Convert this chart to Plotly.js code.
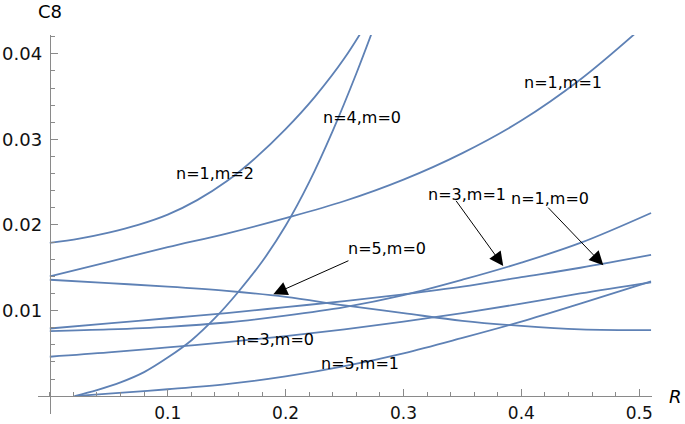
<!DOCTYPE html>
<html>
<head>
<meta charset="utf-8">
<script src="https://cdn.plot.ly/plotly-3.0.1.min.js"></script>
<style>html,body{margin:0;padding:0;background:#fff;}#chart{width:685px;height:424px;}</style>
</head>
<body>
<div id="chart"></div>
<script>
// ---- data ----
const seriesNames = ["n=1,m=2", "n=4,m=0", "n=1,m=1", "n=5,m=0", "n=3,m=1", "n=1,m=0", "n=3,m=0", "n=5,m=1"];

const R_n1m2 = [0, 0.025, 0.05, 0.075, 0.1, 0.125, 0.15, 0.175, 0.2, 0.225, 0.25, 0.275];
const C8_n1m2 = [0.0179, 0.0184, 0.0191, 0.0200, 0.0212, 0.0229, 0.0251, 0.0279, 0.0312, 0.0350, 0.0395, 0.0450];

const R_n4m0 = [0.021, 0.04, 0.06, 0.08, 0.1, 0.12, 0.14, 0.16, 0.18, 0.2, 0.22, 0.24, 0.26, 0.28];
const C8_n4m0 = [0, 0.0007, 0.0016, 0.0028, 0.0045, 0.0065, 0.0091, 0.0122, 0.0157, 0.0199, 0.0250, 0.0310, 0.0377, 0.0450];

const R_common = [0, 0.05, 0.1, 0.15, 0.2, 0.25, 0.3, 0.35, 0.4, 0.45, 0.51];
const R_n1m1 = [0, 0.05, 0.1, 0.15, 0.2, 0.25, 0.3, 0.35, 0.4, 0.45, 0.5];
const C8_n1m1 = [0.0140, 0.0157, 0.0174, 0.0190, 0.0208, 0.0228, 0.0253, 0.0284, 0.0322, 0.0370, 0.0428];
const C8_n5m0 = [0.0136, 0.0132, 0.0128, 0.0123, 0.0116, 0.0106, 0.0097, 0.0088, 0.0082, 0.0078, 0.0077];
const C8_n3m1 = [0.0076, 0.0078, 0.0081, 0.0086, 0.0094, 0.0104, 0.0118, 0.0136, 0.0156, 0.0179, 0.0214];
const C8_n1m0 = [0.0079, 0.0085, 0.0091, 0.0097, 0.0104, 0.0111, 0.0119, 0.0128, 0.0139, 0.0150, 0.0165];
const C8_n3m0 = [0.0046, 0.0051, 0.0057, 0.0063, 0.0070, 0.0078, 0.0087, 0.0097, 0.0108, 0.0120, 0.0133];
const R_n5m1 = [0.021, 0.05, 0.1, 0.15, 0.2, 0.25, 0.3, 0.35, 0.4, 0.45, 0.51];
const C8_n5m1 = [0, 0.0003, 0.0008, 0.0014, 0.0023, 0.0035, 0.0050, 0.0068, 0.0087, 0.0108, 0.0134];

const xTickVals = [0.1, 0.2, 0.3, 0.4, 0.5];
const xTickText = ["0.1", "0.2", "0.3", "0.4", "0.5"];
const yTickVals = [0.01, 0.02, 0.03, 0.04];
const yTickText = ["0.01", "0.02", "0.03", "0.04"];

// ---- chart ----
const lineColor = "rgb(94,129,181)";
const xs = [R_n1m2, R_n4m0, R_n1m1, R_common, R_common, R_common, R_common, R_n5m1];
const ys = [C8_n1m2, C8_n4m0, C8_n1m1, C8_n5m0, C8_n3m1, C8_n1m0, C8_n3m0, C8_n5m1];
const traces = seriesNames.map((name, i) => ({
  type: "scatter", mode: "lines", name: name,
  x: xs[i], y: ys[i],
  line: {color: lineColor, width: 1.8, shape: "spline", smoothing: 1},
  hoverinfo: "skip"
}));

const labelFont = {family: "DejaVu Sans", size: 16, color: "#000"};
function label(text, x, y) {
  return {text: text, x: x, y: y, xref: "x", yref: "y", showarrow: false, font: labelFont, xanchor: "center", yanchor: "middle"};
}
function arrow(tx, ty, hx, hy) {
  return {text: "", x: hx, y: hy, ax: tx, ay: ty, xref: "x", yref: "y", axref: "x", ayref: "y",
          showarrow: true, arrowhead: 2, arrowsize: 2.8, arrowwidth: 1, arrowcolor: "#000", standoff: 0};
}

const annotations = [
  label(seriesNames[0], 0.1401, 0.0260),
  label(seriesNames[1], 0.2645, 0.0326),
  label(seriesNames[2], 0.4349, 0.0367),
  label(seriesNames[4], 0.3543, 0.0236),
  label(seriesNames[5], 0.4243, 0.0231),
  label(seriesNames[3], 0.2858, 0.0173),
  label(seriesNames[6], 0.1910, 0.0066),
  label(seriesNames[7], 0.2631, 0.0038),
  arrow(0.2546, 0.0159, 0.1896, 0.0119),
  arrow(0.3437, 0.0230, 0.3846, 0.0152),
  arrow(0.4215, 0.0222, 0.4695, 0.0153),
  {text: "C8", xref: "paper", yref: "paper", x: 0.0192, y: 1.061, showarrow: false,
   font: {family: "DejaVu Sans", size: 18, color: "#000"}, xanchor: "center", yanchor: "middle"},
  {text: "<i>R</i>", xref: "paper", yref: "y", x: 1.0375, y: 0, showarrow: false,
   font: {family: "DejaVu Sans", size: 18, color: "#000"}, xanchor: "center", yanchor: "middle"}
];

const axisGray = "#8a8a8a";
const xTickFont = {family: "DejaVu Sans", size: 17, color: "#111"};
const yTickFont = {family: "DejaVu Sans", size: 18, color: "#111"};
const layout = {
  width: 685, height: 424,
  margin: {l: 38, r: 33, t: 35, b: 10, pad: 0},
  paper_bgcolor: "#fff", plot_bgcolor: "#fff",
  showlegend: false,
  xaxis: {
    range: [-0.01, 0.5108], anchor: "free", position: 0.0472,
    showline: true, linecolor: axisGray, linewidth: 1.3,
    ticks: "inside", ticklen: 7, tickwidth: 1, tickcolor: axisGray,
    tickmode: "array", tickvals: xTickVals, ticktext: xTickText,
    tickfont: xTickFont, ticklabelstandoff: 1,
    showgrid: false, zeroline: false,
    minor: {tickmode: "linear", tick0: 0, dtick: 0.02, ticks: "inside", ticklen: 4, tickwidth: 1, tickcolor: axisGray, showgrid: false}
  },
  yaxis: {
    range: [-0.00209, 0.0422], anchor: "free", position: 0.0192,
    showline: true, linecolor: axisGray, linewidth: 1.3,
    ticks: "inside", ticklen: 7, tickwidth: 1, tickcolor: axisGray,
    tickmode: "array", tickvals: yTickVals, ticktext: yTickText,
    tickfont: yTickFont, ticklabelstandoff: 4,
    showgrid: false, zeroline: false,
    minor: {tickmode: "linear", tick0: 0, dtick: 0.002, ticks: "inside", ticklen: 4, tickwidth: 1, tickcolor: axisGray, showgrid: false}
  },
  annotations: annotations
};

Plotly.newPlot("chart", traces, layout, {staticPlot: true, displayModeBar: false});
</script>
</body>
</html>
